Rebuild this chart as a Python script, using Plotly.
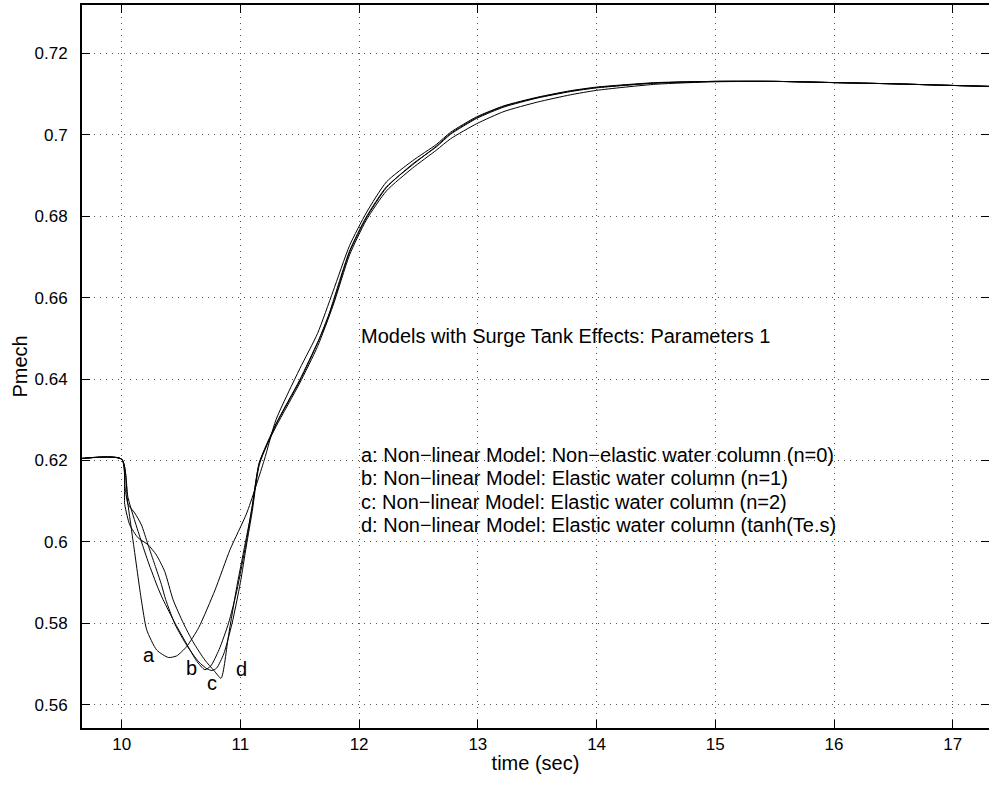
import plotly.graph_objects as go

# ---- data ----
t_a = [9.60, 10.0, 10.05, 10.10, 10.166, 10.211, 10.296, 10.394, 10.464, 10.548, 10.65, 10.787, 10.913, 11.054,
       11.20, 11.30, 11.50, 11.65, 11.78, 11.92, 12.06, 12.23, 12.45, 12.65, 12.77, 12.99, 13.22, 13.50, 13.78,
       14.0, 14.5, 15.0, 15.5, 16.0, 16.5, 17.0, 17.4]
p_a = [0.6203, 0.6203, 0.6098, 0.5994, 0.5857, 0.5784, 0.5734, 0.5716, 0.5720, 0.5743, 0.5790, 0.5882, 0.5981, 0.6071,
       0.6200, 0.6300, 0.6425, 0.6512, 0.6615, 0.6728, 0.6808, 0.6884, 0.6936, 0.6976, 0.7006, 0.7044, 0.7071, 0.7092, 0.7108,
       0.7117, 0.7128, 0.7131, 0.7131, 0.7128, 0.7125, 0.7121, 0.7118]

t_b = [9.60, 10.0, 10.054, 10.138, 10.222, 10.307, 10.349, 10.45, 10.55, 10.63, 10.70, 10.75, 10.82, 10.90, 10.97,
       11.05, 11.10, 11.16, 11.30, 11.50, 11.65, 11.72, 11.78, 11.92, 12.06, 12.23, 12.45, 12.65, 12.77, 12.99, 13.22,
       13.50, 13.78, 14.0, 14.5, 15.0, 15.5, 16.0, 16.5, 17.0, 17.4]
p_b = [0.6203, 0.6203, 0.6108, 0.6026, 0.5952, 0.5886, 0.5858, 0.5800, 0.5748, 0.5708, 0.5686, 0.5695, 0.5735, 0.5800, 0.5880,
       0.6000, 0.6090, 0.6195, 0.6290, 0.6398, 0.6490, 0.6535, 0.6590, 0.6715, 0.6798, 0.6872, 0.6926, 0.6972, 0.7003, 0.7042, 0.7070,
       0.7091, 0.7107, 0.7116, 0.7127, 0.7131, 0.7131, 0.7128, 0.7125, 0.7121, 0.7118]

t_c = [9.60, 10.0, 10.03, 10.054, 10.110, 10.166, 10.222, 10.279, 10.335, 10.371, 10.45, 10.55, 10.65, 10.72, 10.76,
       10.80, 10.86, 10.93, 11.0, 11.05, 11.10, 11.16, 11.30, 11.50, 11.65, 11.70, 11.78, 11.92, 12.06, 12.23, 12.45,
       12.65, 12.77, 12.99, 13.22, 13.50, 13.78, 14.0, 14.5, 15.0, 15.5, 16.0, 16.5, 17.0, 17.4]
p_c = [0.6203, 0.6203, 0.6130, 0.6092, 0.6071, 0.6042, 0.5993, 0.5944, 0.5895, 0.5858, 0.5797, 0.5745, 0.5705, 0.5688, 0.5684,
       0.5690, 0.5725, 0.5800, 0.5900, 0.5990, 0.6075, 0.6190, 0.6288, 0.6395, 0.6488, 0.6525, 0.6585, 0.6712, 0.6795, 0.6870, 0.6928,
       0.6970, 0.7001, 0.7040, 0.7068, 0.7090, 0.7106, 0.7115, 0.7127, 0.7131, 0.7131, 0.7128, 0.7125, 0.7121, 0.7118]

t_d = [9.60, 10.0, 10.026, 10.068, 10.138, 10.222, 10.292, 10.363, 10.433, 10.52, 10.60, 10.70, 10.78, 10.837,
       10.90, 10.97, 11.05, 11.10, 11.16, 11.30, 11.50, 11.65, 11.78, 11.92, 12.06, 12.23, 12.45, 12.65, 12.77, 12.99,
       13.22, 13.50, 13.78, 14.0, 14.5, 15.0, 15.5, 16.0, 16.5, 17.0, 17.4]
p_d = [0.6203, 0.6203, 0.6092, 0.6042, 0.6010, 0.5993, 0.5968, 0.5927, 0.5858, 0.5800, 0.5755, 0.5710, 0.5683, 0.5665,
       0.5770, 0.5890, 0.6010, 0.6085, 0.6195, 0.6283, 0.6390, 0.6480, 0.6580, 0.6705, 0.6790, 0.6862, 0.6918, 0.6962, 0.6990, 0.7027,
       0.7057, 0.7080, 0.7098, 0.7109, 0.7124, 0.7130, 0.7131, 0.7128, 0.7125, 0.7121, 0.7118]

x_ticks = [10, 11, 12, 13, 14, 15, 16, 17]
y_ticks = [0.56, 0.58, 0.60, 0.62, 0.64, 0.66, 0.68, 0.70, 0.72]
y_ticktext = ["0.56", "0.58", "0.6", "0.62", "0.64", "0.66", "0.68", "0.7", "0.72"]

title_text = "Models with Surge Tank Effects: Parameters 1"
legend_lines = [
    "a: Non\u2212linear Model: Non\u2212elastic water column (n=0)",
    "b: Non\u2212linear Model: Elastic water column (n=1)",
    "c: Non\u2212linear Model: Elastic water column (n=2)",
    "d: Non\u2212linear Model: Elastic water column (tanh(Te.s)",
]
curve_labels = ["a", "b", "c", "d"]

# text anchor positions (data coordinates)
text_x = 12.0
title_y = 0.6505
legend_y = [0.62135, 0.6157, 0.6099, 0.6041]
curve_label_pos = [(10.23, 0.5721), (10.59, 0.5691), (10.76, 0.5654), (11.013, 0.5687)]

FONT = "Liberation Sans, Arial, Helvetica, sans-serif"
YR = [0.55428, 0.73186]

fig = go.Figure()
for t, p in [(t_a, p_a), (t_b, p_b), (t_c, p_c), (t_d, p_d)]:
    fig.add_trace(go.Scatter(x=t, y=p, mode="lines",
                             line=dict(color="black", width=1, shape="spline", smoothing=0.6),
                             showlegend=False, hoverinfo="skip"))
# invisible trace to anchor the right-hand tick axis
fig.add_trace(go.Scatter(x=t_a, y=p_a, yaxis="y2", mode="lines", opacity=0,
                         line=dict(width=0), showlegend=False, hoverinfo="skip"))

ann = []
ann.append(dict(x=text_x, y=title_y, xref="x", yref="y", text=title_text, showarrow=False,
                xanchor="left", yanchor="middle", font=dict(size=20, color="black", family=FONT)))
for line, ly in zip(legend_lines, legend_y):
    ann.append(dict(x=text_x, y=ly, xref="x", yref="y", text=line,
                    showarrow=False, xanchor="left", yanchor="middle",
                    font=dict(size=20, color="black", family=FONT)))
for lab, (lx, ly) in zip(curve_labels, curve_label_pos):
    ann.append(dict(x=lx, y=ly, xref="x", yref="y", text=lab, showarrow=False,
                    xanchor="center", yanchor="middle", font=dict(size=20, color="black", family=FONT)))

grid = dict(showgrid=True, gridcolor="#555555", griddash="1px,5px", gridwidth=1)

fig.update_layout(
    width=989, height=787,
    margin=dict(l=82, r=0, t=5, b=59),
    paper_bgcolor="white", plot_bgcolor="white",
    annotations=ann,
    xaxis=dict(range=[9.666, 17.305], tickvals=x_ticks, ticktext=[str(v) for v in x_ticks],
               title=dict(text="time (sec)", font=dict(size=20, color="black", family=FONT), standoff=3),
               showline=True, linecolor="black", linewidth=2, mirror="ticks",
               ticks="inside", ticklen=8, tickcolor="black", tickwidth=1, zeroline=False,
               tickfont=dict(size=17, color="black", family=FONT), **grid),
    yaxis=dict(range=YR, tickvals=y_ticks, ticktext=y_ticktext,
               title=dict(text="Pmech", font=dict(size=20, color="black", family=FONT), standoff=2),
               showline=True, linecolor="black", linewidth=2, mirror=False,
               ticks="inside", ticklen=8, tickcolor="black", tickwidth=1, zeroline=False,
               ticklabelstandoff=9,
               tickfont=dict(size=17, color="black", family=FONT), **grid),
    yaxis2=dict(range=YR, overlaying="y", side="right", tickvals=y_ticks,
                ticks="inside", ticklen=8, tickcolor="black", tickwidth=1,
                showticklabels=False, showline=False, showgrid=False, zeroline=False),
)

fig.write_html("out.html")
